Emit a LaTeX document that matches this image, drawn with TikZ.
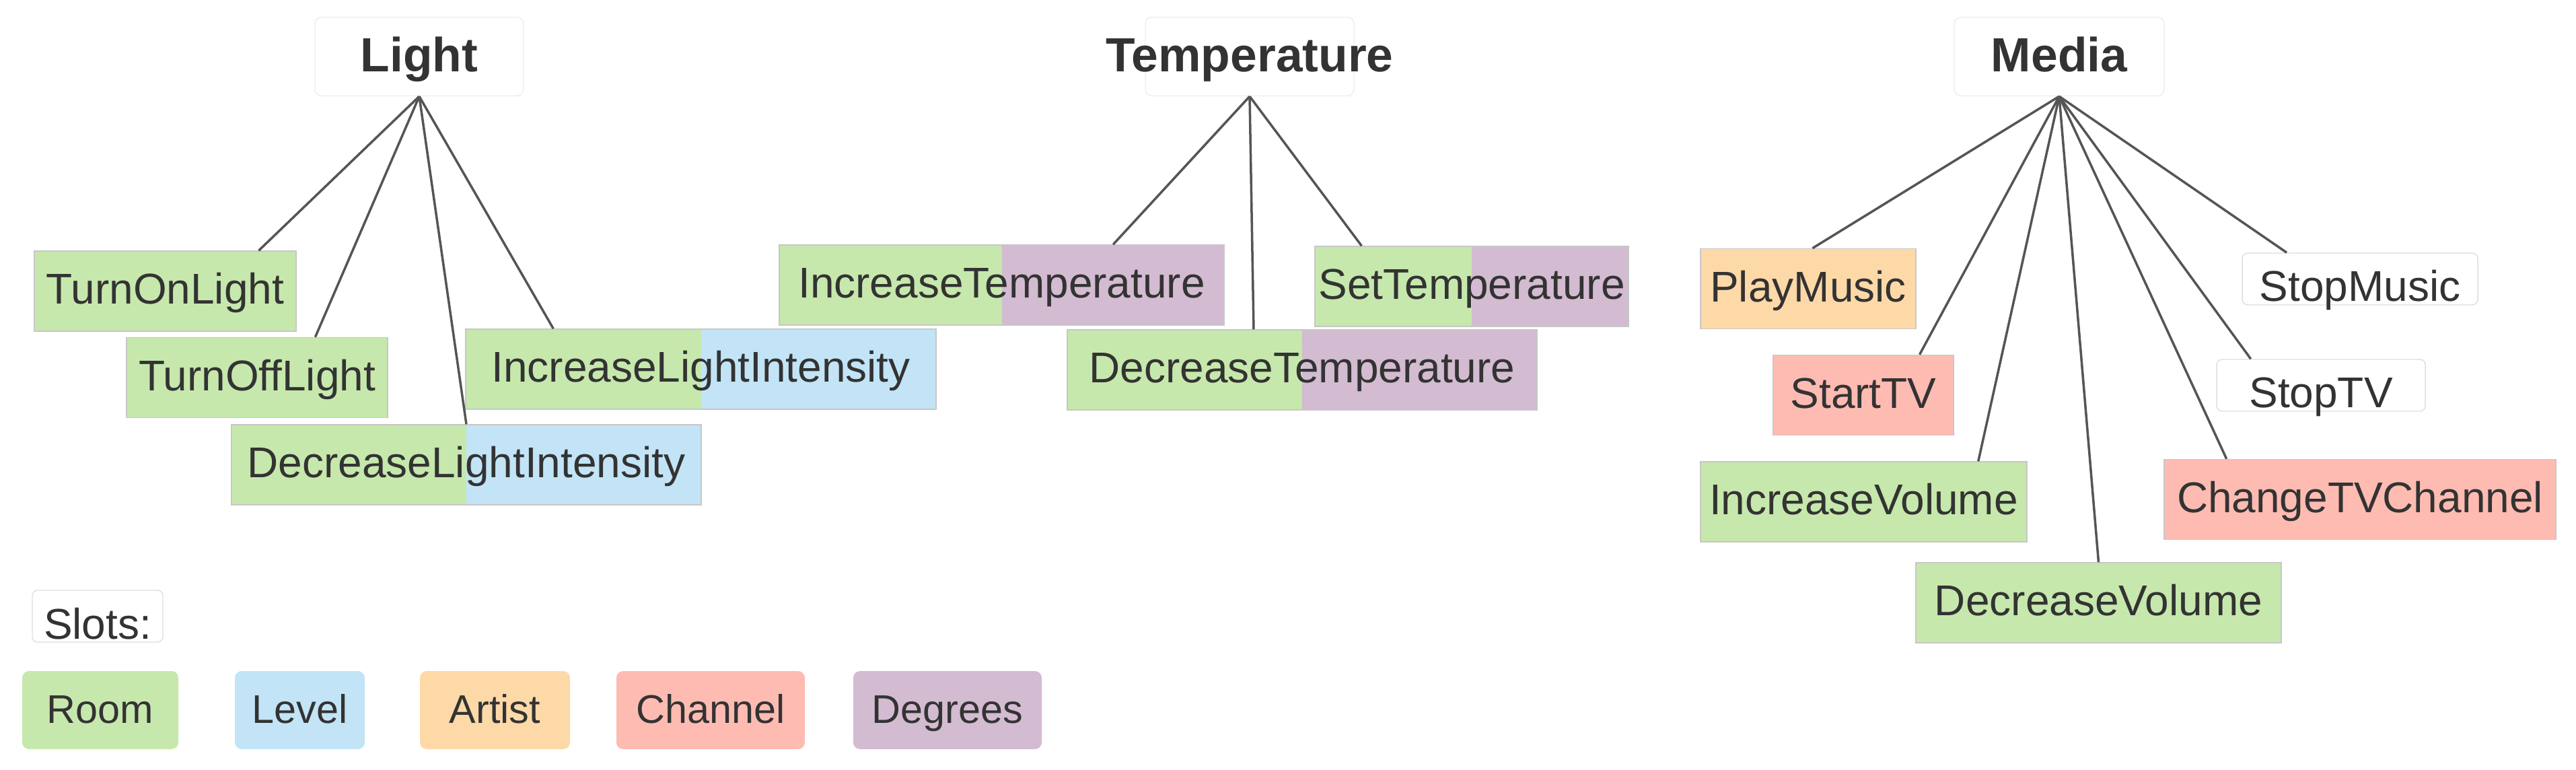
\documentclass[tikz,border=0pt]{standalone}
\usepackage{fontspec}
\setmainfont{Liberation Sans}
\usetikzlibrary{calc}

\definecolor{room}{HTML}{C6E8AC}
\definecolor{level}{HTML}{C2E4F6}
\definecolor{artist}{HTML}{FED9A8}
\definecolor{channel}{HTML}{FEBBB2}
\definecolor{degrees}{HTML}{D3BBD1}
\definecolor{txt}{HTML}{333333}
\definecolor{edge}{HTML}{555555}

\tikzset{
  topicbox/.style={draw=black!7, fill=white, rounded corners=0.1cm, inner sep=0pt,
    minimum width=3.1cm, minimum height=1.17cm, text=txt,
    font=\fontsize{20.3}{24}\selectfont\bfseries, text height=14pt, text depth=1pt},
  intent/.style={draw=black!22, line width=0.4pt, inner sep=0pt, minimum height=1.19cm,
    text=txt, font=\fontsize{18.2}{22}\selectfont, text height=12pt, text depth=1pt},
  bare/.style={draw=black!13, fill=white, rounded corners=0.08cm, inner sep=0pt,
    text=txt, font=\fontsize{18.2}{22}\selectfont, text height=0.72cm, text depth=0.05cm},
  slotbox/.style={rounded corners=0.1cm, inner sep=0pt, minimum height=1.16cm,
    text=txt, font=\fontsize{16.9}{20}\selectfont, text height=11.5pt, text depth=0.5pt},
  halves/.style 2 args={path picture={
    \fill[#1] (path picture bounding box.south west) rectangle (path picture bounding box.north);
    \fill[#2] (path picture bounding box.south) rectangle (path picture bounding box.north east);}},
  link/.style={draw=edge, line width=1pt}
}

\begin{document}
\begin{tikzpicture}

\useasboundingbox (0,0) rectangle (38.28,-11.44);

\node[topicbox] (light) at (6.23,-0.84) {Light};
\node[topicbox, inner xsep=-0.62cm] (temp) at (18.57,-0.84) {Temperature};
\node[topicbox, minimum width=3.12cm] (media) at (30.60,-0.84) {Media};

\node[intent, fill=room, minimum width=3.89cm] (turnon) at (2.455,-4.325) {TurnOnLight};
\node[intent, fill=room, minimum width=3.88cm] (turnoff) at (3.82,-5.61) {TurnOffLight};
\node[intent, halves={room}{level}, minimum width=6.99cm] (incli) at (10.415,-5.485) {IncreaseLightIntensity};
\node[intent, halves={room}{level}, minimum width=6.98cm] (decli) at (6.93,-6.905) {DecreaseLightIntensity};

\node[intent, halves={room}{degrees}, minimum width=6.61cm] (inctemp) at (14.885,-4.235) {IncreaseTemperature};
\node[intent, halves={room}{degrees}, minimum width=4.66cm] (settemp) at (21.87,-4.255) {SetTemperature};
\node[intent, halves={room}{degrees}, minimum width=6.98cm] (dectemp) at (19.35,-5.495) {DecreaseTemperature};

\node[intent, fill=artist, minimum width=3.20cm] (play) at (26.87,-4.29) {PlayMusic};
\node[intent, fill=channel, minimum width=2.68cm] (starttv) at (27.69,-5.87) {StartTV};
\node[intent, fill=room, minimum width=4.85cm] (incvol) at (27.695,-7.455) {IncreaseVolume};
\node[intent, fill=room, minimum width=5.43cm] (decvol) at (31.185,-8.955) {DecreaseVolume};
\node[bare, minimum width=3.50cm] (stopmusic) at (35.07,-4.145) {StopMusic};
\node[bare, minimum width=3.10cm] (stoptv) at (34.49,-5.725) {StopTV};
\node[intent, fill=channel, minimum width=5.82cm] (changetv) at (35.07,-7.42) {ChangeTVChannel};

\draw[link] (light.south) -- ($(turnon.north west)!.856!(turnon.north east)$);
\draw[link] (light.south) -- ($(turnoff.north west)!.722!(turnoff.north east)$);
\draw[link] (light.south) -- ($(incli.north west)!.187!(incli.north east)$);
\draw[link] (light.south) -- (decli.north);

\draw[link] (temp.south) -- ($(inctemp.north west)!.75!(inctemp.north east)$);
\draw[link] (temp.south) -- ($(settemp.north west)!.15!(settemp.north east)$);
\draw[link] (temp.south) -- ($(dectemp.north west)!.397!(dectemp.north east)$);

\draw[link] (media.south) -- ($(play.north west)!.52!(play.north east)$);
\draw[link] (media.south) -- ($(starttv.north west)!.81!(starttv.north east)$);
\draw[link] (media.south) -- ($(incvol.north west)!.85!(incvol.north east)$);
\draw[link] (media.south) -- (decvol.north);
\draw[link] (media.south) -- ($(stopmusic.north west)!.19!(stopmusic.north east)$);
\draw[link] (media.south) -- ($(stoptv.north west)!.165!(stoptv.north east)$);
\draw[link] (media.south) -- ($(changetv.north west)!.16!(changetv.north east)$);

\node[bare, minimum width=1.94cm] (slots) at (1.45,-9.155) {Slots:};
\node[slotbox, fill=room, minimum width=2.32cm] (room) at (1.49,-10.55) {Room};
\node[slotbox, fill=level, minimum width=1.93cm] (level) at (4.455,-10.55) {Level};
\node[slotbox, fill=artist, minimum width=2.23cm] (artist) at (7.355,-10.55) {Artist};
\node[slotbox, fill=channel, minimum width=2.80cm] (channel) at (10.56,-10.55) {Channel};
\node[slotbox, fill=degrees, minimum width=2.80cm] (degrees) at (14.08,-10.55) {Degrees};

\end{tikzpicture}
\end{document}
